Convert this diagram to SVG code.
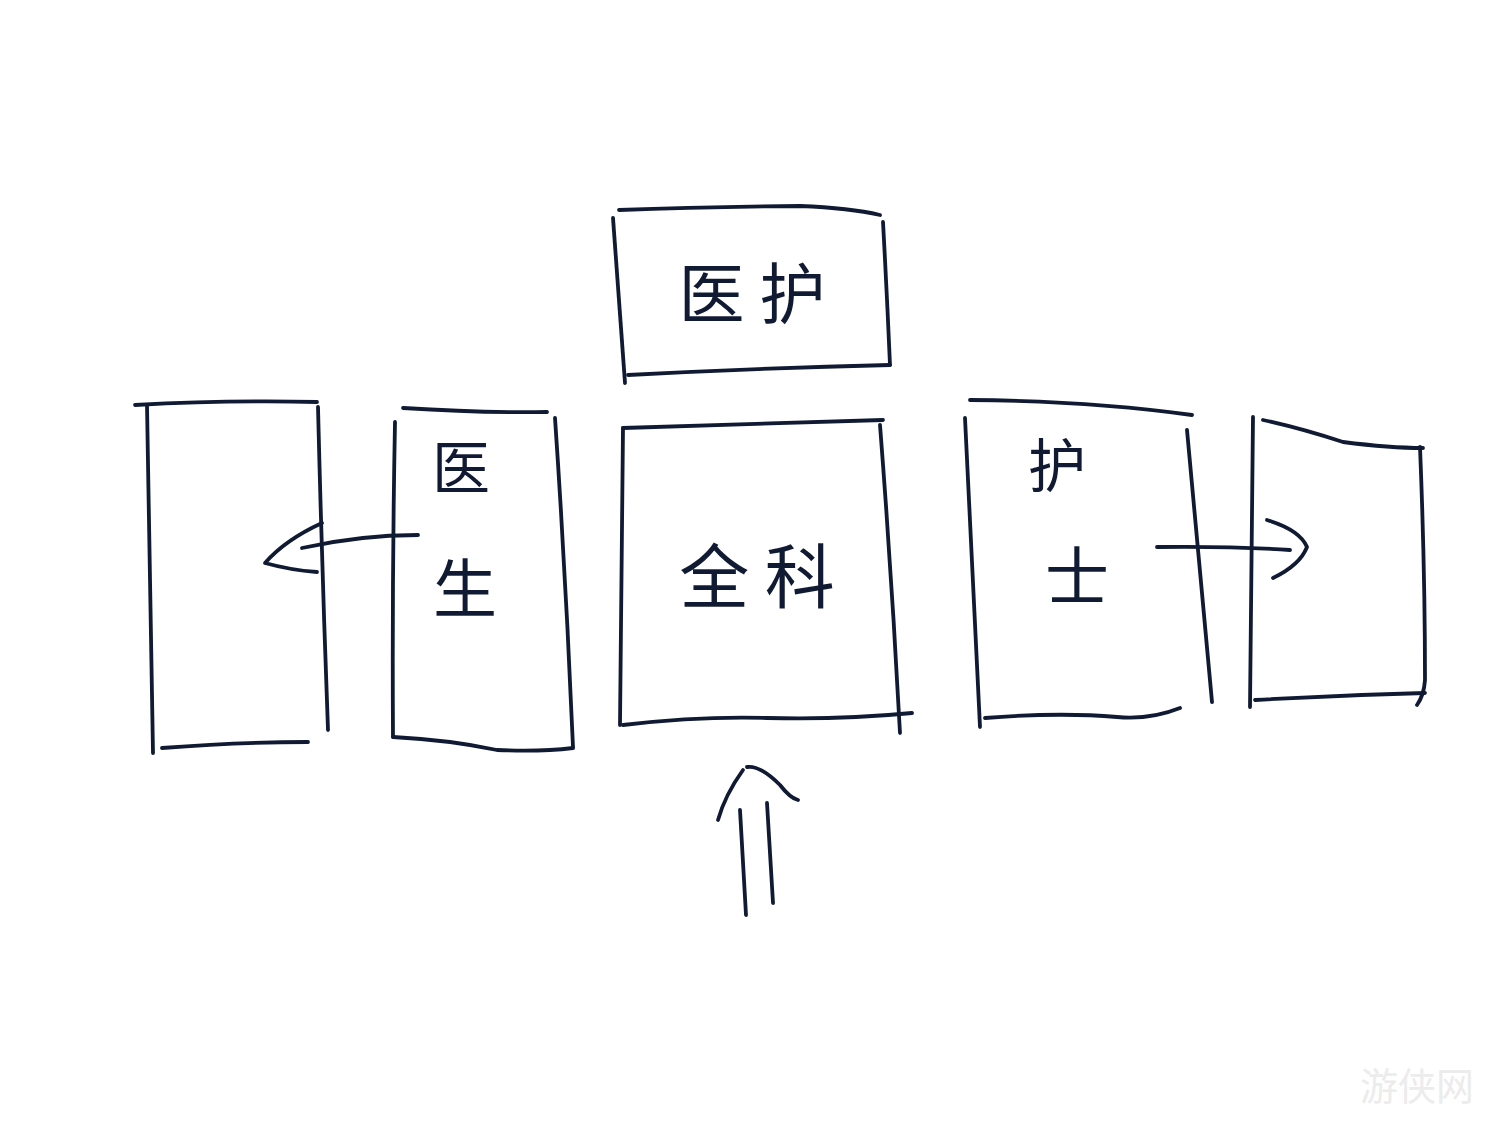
<svg xmlns="http://www.w3.org/2000/svg" width="1500" height="1125" viewBox="0 0 1500 1125">
<style>
.s{fill:none;stroke:#101a33;stroke-width:3.8;stroke-linecap:round;stroke-linejoin:round}
.t{font-family:"Noto Sans CJK SC","Noto Sans CJK JP",sans-serif;fill:#101a33;text-anchor:middle}
.wm{font-family:"Noto Sans CJK SC",sans-serif;fill:#ececec;font-size:38px}
</style>
<rect width="1500" height="1125" fill="#ffffff"/>
<g id="node-yihu">
<path class="s" d="M619,210 Q700,207 800,206 Q850,208 880,215"/>
<path class="s" d="M613,218 Q619,300 625,383"/>
<path class="s" d="M883,222 Q887,295 890,365"/>
<path class="s" d="M628,375 Q760,368 890,365"/>
<text class="t" x="752" y="318" font-size="66">医 护</text>
</g>
<g id="node-left">
<path class="s" d="M135,405 Q230,400 317,402"/>
<path class="s" d="M147,405 Q150,580 153,753"/>
<path class="s" d="M318,407 Q322,570 328,730"/>
<path class="s" d="M162,748 Q240,742 308,742"/>
</g>
<g id="node-doctor">
<path class="s" d="M403,408 Q480,413 547,412"/>
<path class="s" d="M395,422 Q392,580 393,737"/>
<path class="s" d="M555,418 Q566,580 573,747"/>
<path class="s" d="M393,737 Q450,740 497,750 Q540,752 573,748"/>
<text class="t" x="461" y="489" font-size="58">医</text>
<text class="t" x="465" y="612" font-size="64">生</text>
</g>
<g id="node-general">
<path class="s" d="M623,428 Q760,424 883,420"/>
<path class="s" d="M623,428 Q621,580 620,725"/>
<path class="s" d="M880,425 Q892,580 900,733"/>
<path class="s" d="M623,725 Q700,716 767,718 Q840,720 912,713"/>
<text class="t" x="757" y="603" font-size="70">全 科</text>
</g>
<g id="node-nurse">
<path class="s" d="M970,400 Q1090,401 1192,415"/>
<path class="s" d="M965,418 Q972,570 980,727"/>
<path class="s" d="M1187,430 Q1200,570 1212,702"/>
<path class="s" d="M985,718 Q1060,712 1117,717 Q1150,720 1180,708"/>
<text class="t" x="1057" y="487" font-size="58">护</text>
<text class="t" x="1077" y="600" font-size="64">士</text>
</g>
<g id="node-right">
<path class="s" d="M1263,420 Q1300,428 1343,442 Q1390,448 1423,448"/>
<path class="s" d="M1253,417 Q1251,560 1250,707"/>
<path class="s" d="M1420,447 Q1425,570 1425,680 Q1424,695 1417,705"/>
<path class="s" d="M1255,700 Q1340,695 1425,693"/>
</g>
<g id="connectors">
<path class="s" d="M418,535 Q360,535 302,548"/>
<path class="s" d="M322,523 Q285,540 265,563 Q290,570 317,572"/>
<path class="s" d="M1157,547 Q1230,546 1290,550"/>
<path class="s" d="M1267,520 Q1300,530 1307,547 Q1300,565 1273,578"/>
<path class="s" d="M740,810 Q743,860 746,915"/>
<path class="s" d="M767,803 Q770,850 773,903"/>
<path class="s" d="M718,820 Q725,795 743,770"/>
<path class="s" d="M747,767 Q760,765 780,785 Q790,798 798,800"/>
</g>
<text class="wm" x="1360" y="1100">游侠网</text>
</svg>
